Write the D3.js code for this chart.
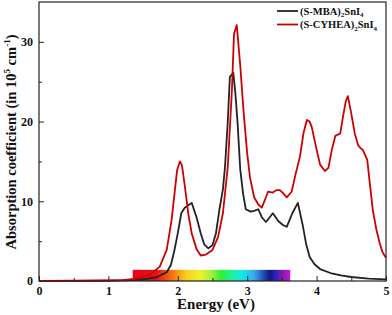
<!DOCTYPE html>
<html>
<head>
<meta charset="utf-8">
<script src="https://cdn.jsdelivr.net/npm/d3@7"></script>
<style>
  body { margin: 0; background: #fff; }
  svg text { font-family: "Liberation Serif", "Times New Roman", "DejaVu Serif", serif; font-weight: bold; fill: #111; }
</style>
</head>
<body>
<div id="chart"></div>
<script>
// -------- Data --------
const energyMBA = [0, 0.5, 1.0, 1.35, 1.5, 1.7, 1.84, 1.9, 1.95, 2.0, 2.05, 2.1, 2.15, 2.2, 2.27, 2.33, 2.38, 2.44, 2.5, 2.55, 2.6, 2.65, 2.68, 2.72, 2.75, 2.8, 2.83, 2.86, 2.9, 2.94, 2.98, 3.05, 3.1, 3.16, 3.21, 3.27, 3.37, 3.45, 3.52, 3.57, 3.65, 3.73, 3.8, 3.85, 3.9, 3.97, 4.05, 4.2, 4.35, 4.5, 4.75, 5.0];
const absMBA    = [0, 0.02, 0.05, 0.12, 0.2, 0.5, 1.1, 2.0, 3.8, 6.0, 8.5, 9.2, 9.5, 9.8, 8.0, 6.0, 4.6, 4.1, 4.5, 6.0, 9.0, 11.5, 14.3, 20.0, 25.6, 26.1, 23.5, 20.0, 14.0, 11.0, 9.0, 8.7, 8.8, 9.0, 8.0, 7.4, 8.5, 7.5, 7.0, 6.8, 8.5, 9.8, 7.0, 4.6, 3.0, 2.1, 1.5, 1.0, 0.7, 0.5, 0.3, 0.2];

const energyCYHEA = [0, 0.5, 1.0, 1.2, 1.4, 1.6, 1.74, 1.84, 1.91, 1.99, 2.03, 2.06, 2.1, 2.15, 2.2, 2.27, 2.33, 2.4, 2.5, 2.58, 2.65, 2.72, 2.78, 2.81, 2.85, 2.9, 2.95, 3.0, 3.04, 3.1, 3.16, 3.21, 3.27, 3.3, 3.37, 3.42, 3.47, 3.52, 3.57, 3.64, 3.7, 3.76, 3.81, 3.86, 3.9, 3.93, 4.0, 4.05, 4.12, 4.17, 4.22, 4.27, 4.34, 4.38, 4.42, 4.45, 4.5, 4.55, 4.6, 4.63, 4.67, 4.73, 4.77, 4.81, 4.86, 4.91, 4.95, 5.0];
const absCYHEA    = [0, 0.03, 0.06, 0.1, 0.3, 0.8, 1.8, 3.9, 7.6, 13.9, 15.0, 14.5, 12.0, 8.5, 6.0, 4.0, 3.2, 3.3, 3.9, 5.5, 8.5, 14.3, 24.0, 31.0, 32.1, 27.0, 21.0, 16.0, 13.0, 10.5, 9.6, 9.2, 10.5, 11.2, 11.1, 11.4, 11.4, 11.0, 10.5, 11.2, 13.5, 15.6, 18.5, 20.2, 20.0, 19.3, 16.5, 14.6, 13.8, 14.2, 16.5, 18.2, 18.5, 20.6, 22.5, 23.2, 21.0, 18.5, 17.0, 16.7, 16.4, 15.2, 12.0, 8.9, 6.5, 4.7, 3.6, 2.9];

const seriesNames  = ['(S-MBA)', '(S-CYHEA)'];
const seriesColors = ['#222222', '#cc0000'];

const xTicks = [0, 1, 2, 3, 4, 5];
const yTicks = [0, 10, 20, 30];

// visible-spectrum bar (energy range and colour stops)
const spectrumRange = [1.35, 3.62];
const spectrumHeight = 1.4;
const spectrumStops = [
  [0.00, '#e8001a'], [0.15, '#e8101a'], [0.24, '#f46a10'], [0.34, '#f8d020'],
  [0.43, '#eef030'], [0.50, '#a0f040'], [0.56, '#30f030'], [0.63, '#20f0a0'],
  [0.70, '#10e8e8'], [0.77, '#40a8f0'], [0.83, '#2050b0'], [0.87, '#101880'],
  [0.91, '#3020c0'], [0.95, '#8020a0'], [1.00, '#d010e0']
];

const serif = '"Liberation Serif", "Times New Roman", "DejaVu Serif", serif';

// -------- Dimensions --------
const width = 392, height = 315;
const m = { top: 2, right: 6, bottom: 34, left: 39 };

const svg = d3.select('#chart').append('svg')
  .attr('width', width)
  .attr('height', height);

svg.append('rect').attr('width', width).attr('height', height).attr('fill', '#fff');

const x = d3.scaleLinear().domain([0, 5]).range([m.left, width - m.right]);
const y = d3.scaleLinear().domain([0, 35]).range([height - m.bottom, m.top]);

// -------- Spectrum bar --------
const grad = svg.append('defs').append('linearGradient')
  .attr('id', 'spec').attr('x1', '0%').attr('x2', '100%');
grad.selectAll('stop').data(spectrumStops).join('stop')
  .attr('offset', d => d[0])
  .attr('stop-color', d => d[1]);

svg.append('rect')
  .attr('x', x(spectrumRange[0]))
  .attr('y', y(spectrumHeight))
  .attr('width', x(spectrumRange[1]) - x(spectrumRange[0]))
  .attr('height', y(0) - y(spectrumHeight))
  .attr('fill', 'url(#spec)');

// -------- Axes (ticks inward) --------
const xAxis = svg.append('g')
  .attr('transform', `translate(0,${y(0)})`)
  .call(d3.axisBottom(x).tickValues(xTicks).tickSize(-5).tickPadding(5).tickFormat(d3.format('d')));
const xMinor = svg.append('g')
  .attr('transform', `translate(0,${y(0)})`)
  .call(d3.axisBottom(x).tickValues(d3.range(0.5, 5, 1)).tickSize(-3).tickFormat(''));

const yAxis = svg.append('g')
  .attr('transform', `translate(${m.left},0)`)
  .call(d3.axisLeft(y).tickValues(yTicks).tickSize(-5).tickPadding(6).tickFormat(d3.format('d')));
const yMinor = svg.append('g')
  .attr('transform', `translate(${m.left},0)`)
  .call(d3.axisLeft(y).tickValues([5, 15, 25]).tickSize(-3).tickFormat(''));

[xAxis, xMinor, yAxis, yMinor].forEach(a => {
  a.attr('font-family', serif);
  a.select('.domain').remove();
  a.selectAll('line').attr('stroke', '#222').attr('stroke-width', 1);
  a.selectAll('text').attr('font-size', 12).attr('fill', '#111')
    .attr('font-family', serif).attr('font-weight', 'bold');
});

// -------- Curves --------
const line = d3.line().x(d => x(d[0])).y(d => y(d[1]));
const curves = [
  d3.zip(energyMBA, absMBA),
  d3.zip(energyCYHEA, absCYHEA)
];

svg.append('g').selectAll('path')
  .data(curves)
  .join('path')
    .attr('d', line)
    .attr('fill', 'none')
    .attr('stroke', (d, i) => seriesColors[i])
    .attr('stroke-width', 1.8)
    .attr('stroke-linejoin', 'round');

// -------- Frame --------
svg.append('rect')
  .attr('x', x(0)).attr('y', y(35))
  .attr('width', x(5) - x(0)).attr('height', y(0) - y(35))
  .attr('fill', 'none').attr('stroke', '#222').attr('stroke-width', 1.2);

// -------- Axis titles --------
svg.append('text')
  .attr('x', 216).attr('y', 309)
  .attr('text-anchor', 'middle')
  .attr('font-family', serif)
  .attr('font-size', 15)
  .text('Energy (eV)');

const yl = svg.append('text')
  .attr('transform', `translate(16,142) rotate(-90)`)
  .attr('text-anchor', 'middle')
  .attr('font-family', serif)
  .attr('font-size', 14.5);
yl.append('tspan').text('Absorption coefficient (in 10');
yl.append('tspan').attr('font-size', 9).attr('dy', -6).text('5');
yl.append('tspan').attr('dy', 6).text(' cm');
yl.append('tspan').attr('font-size', 9).attr('dy', -6).text('-1');
yl.append('tspan').attr('dy', 6).text(')');

// -------- Legend --------
const legend = svg.append('g');
seriesNames.forEach((name, i) => {
  const ly = 11 + i * 13.5;
  legend.append('line')
    .attr('x1', 277).attr('x2', 298).attr('y1', ly).attr('y2', ly)
    .attr('stroke', seriesColors[i]).attr('stroke-width', 1.8);
  const t = legend.append('text')
    .attr('x', 300).attr('y', ly + 3.5)
    .attr('font-family', serif)
    .attr('font-size', 10.5);
  t.append('tspan').text(name);
  t.append('tspan').attr('font-size', 7).attr('dy', 2.5).text('2');
  t.append('tspan').attr('dy', -2.5).text('SnI');
  t.append('tspan').attr('font-size', 7).attr('dy', 2.5).text('4');
});
</script>
</body>
</html>
